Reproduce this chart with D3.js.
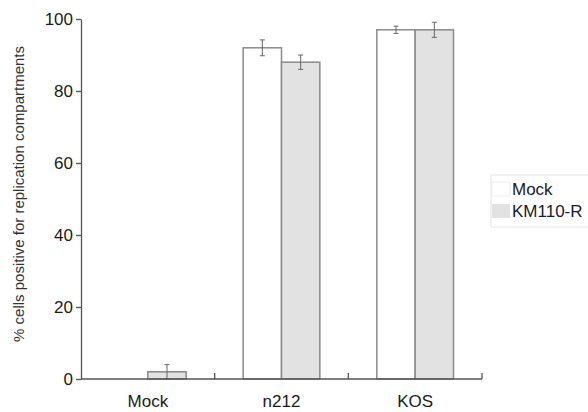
<!DOCTYPE html>
<html>
<head>
<meta charset="utf-8">
<script src="https://cdn.jsdelivr.net/npm/d3@7"></script>
<style>
	body { margin: 0; background: #fff; }
	svg { font-family: "Liberation Sans", Arial, sans-serif; }
</style>
</head>
<body>
<svg id="chart" width="588" height="412"></svg>
<script>
const categories = ["Mock", "n212", "KOS"];
const seriesNames = ["Mock", "KM110-R"];
const mockValues = [0, 92, 97];
const mockErrors = [0, 2.2, 1];
const km110Values = [2, 88, 97];
const km110Errors = [2, 2, 2.1];
const yTicks = [0, 20, 40, 60, 80, 100];

const fills = {"Mock": "#ffffff", "KM110-R": "#e2e2e2"};
const margin = {top: 19, left: 81, right: 106, bottom: 33};
const width = 588, height = 412;

const svg = d3.select("#chart");

const x0 = d3.scaleBand()
	.domain(categories)
	.range([margin.left, width - margin.right])
	.padding(0);
const x1 = d3.scaleBand()
	.domain(seriesNames)
	.range([28.5, x0.bandwidth() - 28.5])
	.padding(0);
const y = d3.scaleLinear()
	.domain([0, 100])
	.range([height - margin.bottom, margin.top]);

const rows = categories.map((c, i) => ({
	cat: c,
	bars: [
		{key: "Mock", value: mockValues[i], err: mockErrors[i]},
		{key: "KM110-R", value: km110Values[i], err: km110Errors[i]}
	]
}));

// bars
const groups = svg.append("g").selectAll("g")
	.data(rows)
	.enter().append("g")
	.attr("transform", d => "translate(" + x0(d.cat) + ",0)");

groups.selectAll("rect")
	.data(d => d.bars)
	.enter().append("rect")
	.attr("x", d => x1(d.key))
	.attr("y", d => y(d.value))
	.attr("width", x1.bandwidth())
	.attr("height", d => y(0) - y(d.value))
	.attr("fill", d => fills[d.key])
	.attr("stroke", "#8a8a8a")
	.attr("stroke-width", 1.5);

// error bars
const eb = groups.selectAll("g.err")
	.data(d => d.bars.filter(b => b.err > 0))
	.enter().append("g")
	.attr("class", "err")
	.attr("stroke", "#666")
	.attr("stroke-width", 1);
eb.append("line")
	.attr("x1", d => x1(d.key) + x1.bandwidth() / 2)
	.attr("x2", d => x1(d.key) + x1.bandwidth() / 2)
	.attr("y1", d => y(d.value + d.err))
	.attr("y2", d => y(d.value - d.err));
eb.selectAll("line.cap")
	.data(d => [d.value + d.err, d.value - d.err].map(v => ({key: d.key, v: v})))
	.enter().append("line")
	.attr("class", "cap")
	.attr("x1", d => x1(d.key) + x1.bandwidth() / 2 - 2.5)
	.attr("x2", d => x1(d.key) + x1.bandwidth() / 2 + 2.5)
	.attr("y1", d => y(d.v))
	.attr("y2", d => y(d.v));

// y axis
const yAxis = svg.append("g")
	.attr("transform", "translate(" + margin.left + ",0)")
	.call(d3.axisLeft(y).tickValues(yTicks).tickSize(5).tickPadding(3).tickSizeOuter(0));
yAxis.select(".domain").attr("stroke", "#555").attr("stroke-width", 1.3);
yAxis.selectAll(".tick line").attr("stroke", "#555").attr("stroke-width", 1.3);
yAxis.selectAll("text").attr("font-size", 17).attr("fill", "#1a1a1a")
	.attr("font-family", "Liberation Sans, Arial, sans-serif");

// x axis
const xAxisG = svg.append("g").attr("transform", "translate(0," + y(0) + ")");
xAxisG.append("line")
	.attr("x1", margin.left).attr("x2", width - margin.right)
	.attr("stroke", "#555").attr("stroke-width", 1.3);
xAxisG.selectAll("line.tick")
	.data(categories)
	.enter().append("line")
	.attr("class", "tick")
	.attr("x1", d => x0(d) + x0.bandwidth())
	.attr("x2", d => x0(d) + x0.bandwidth())
	.attr("y1", 0).attr("y2", -6)
	.attr("stroke", "#555").attr("stroke-width", 1.3);
xAxisG.selectAll("text")
	.data(categories)
	.enter().append("text")
	.attr("x", d => x0(d) + x0.bandwidth() / 2)
	.attr("y", 28)
	.attr("text-anchor", "middle")
	.attr("font-size", 17)
	.attr("fill", "#1a1a1a")
	.text(d => d);

// y title
svg.append("text")
	.attr("transform", "translate(24,194) rotate(-90)")
	.attr("text-anchor", "middle")
	.attr("font-size", 15)
	.attr("fill", "#333")
	.text("% cells positive for replication compartments");

// legend
const lg = svg.append("g").attr("transform", "translate(491,175)");
lg.append("rect")
	.attr("width", 110).attr("height", 52)
	.attr("fill", "none").attr("stroke", "#e4e4e4");
const li = lg.selectAll("g.item")
	.data(seriesNames)
	.enter().append("g")
	.attr("class", "item")
	.attr("transform", (d, i) => "translate(1," + (7 + i * 22) + ")");
li.append("rect")
	.attr("width", 18).attr("height", 14)
	.attr("fill", d => fills[d])
	.attr("stroke", d => d === "Mock" ? "#eee" : "none");
li.append("text")
	.attr("x", 20).attr("y", 13)
	.attr("font-size", 17)
	.attr("fill", "#1a1a2a")
	.text(d => d);
</script>
</body>
</html>
